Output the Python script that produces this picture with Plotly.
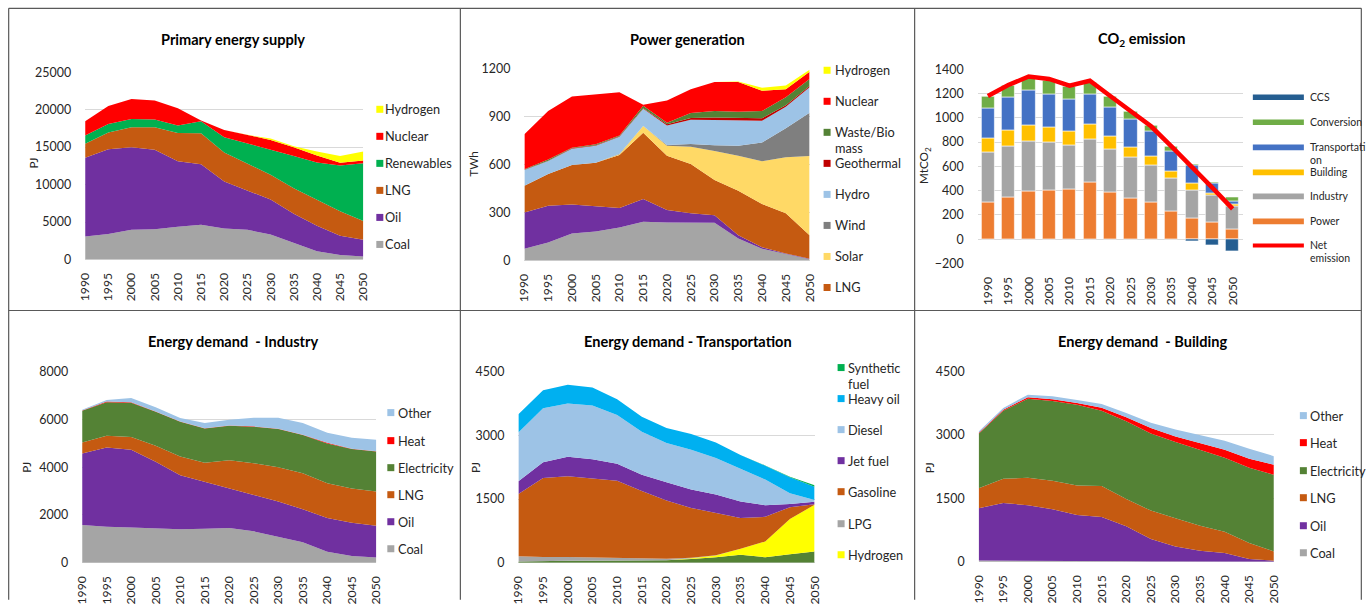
import plotly.graph_objects as go

W, H = 1369, 607
# Measured screen mapping of this page: screen = (figure_px + 8) * S
SX, SY = 1369 / 1385, 607 / 623
FS = 1 / ((SX + SY) / 2)
FONT = "Lato"
TXT = "#262626"

years = [1990, 1995, 2000, 2005, 2010, 2015, 2020, 2025, 2030, 2035, 2040, 2045, 2050]
year_labels = [str(y) for y in years]

# ---------- Primary energy supply (PJ) ----------
pes_coal = [3070, 3400, 3960, 4050, 4360, 4630, 4140, 3960, 3340, 2180, 1110, 580, 400]
pes_oil = [10500, 11320, 11030, 10590, 8760, 8090, 6270, 5290, 4660, 3910, 3380, 2580, 2220]
pes_lng = [1870, 2230, 2670, 3020, 3780, 4140, 3870, 3520, 3300, 3430, 3470, 3290, 2500]
pes_renew = [1110, 1150, 1110, 1020, 980, 1600, 2050, 2750, 3420, 4310, 4980, 6090, 7740]
pes_nuclear = [1910, 2400, 2670, 2540, 2320, 90, 970, 1120, 1250, 1160, 940, 360, 350]
pes_hydrogen = [0, 0, 0, 0, 0, 0, 0, 0, 180, 130, 530, 930, 1200]

# ---------- Power generation (TWh) ----------
pg_coal = [73, 112, 169, 181, 206, 242, 237, 237, 235, 137, 73, 40, 8]
pg_oil = [227, 230, 181, 159, 121, 141, 78, 57, 48, 21, 10, 4, 2]
pg_lng = [167, 198, 246, 270, 331, 415, 339, 308, 219, 277, 269, 250, 148]
pg_solar = [0, 0, 0, 0, 5, 42, 63, 108, 181, 219, 267, 350, 494]
pg_wind = [0, 0, 0, 0, 3, 0, 4, 17, 36, 63, 118, 181, 271]
pg_hydro = [98, 81, 102, 107, 106, 108, 121, 152, 158, 156, 136, 135, 158]
pg_geo = [2, 2, 2, 3, 3, 3, 8, 11, 15, 15, 15, 9, 9]
pg_waste = [2, 8, 4, 6, 5, 15, 10, 31, 41, 41, 45, 50, 43]
pg_nuclear = [219, 302, 319, 310, 270, 6, 138, 148, 182, 186, 127, 50, 46]
pg_hydrogen = [0, 0, 0, 0, 0, 0, 0, 0, 0, 2, 19, 23, 11]

# ---------- CO2 emission (MtCO2) ----------
co2_power = [308, 347, 393, 399, 415, 473, 388, 341, 308, 226, 176, 143, 83]
co2_industry = [407, 418, 416, 396, 361, 352, 355, 338, 303, 280, 228, 215, 189]
co2_building = [119, 132, 129, 124, 115, 118, 104, 80, 71, 55, 53, 24, 14]
co2_transport = [247, 275, 286, 277, 258, 253, 242, 226, 206, 165, 151, 80, 25]
co2_conversion = [99, 96, 104, 113, 111, 99, 88, 68, 50, 41, 8, 8, 38]
co2_ccs = [0, 0, 0, 0, 0, 0, 0, 0, 0, 0, -17, -47, -99]
co2_net = [1180, 1270, 1340, 1320, 1265, 1305, 1180, 1055, 930, 765, 600, 425, 250]

# ---------- Energy demand - Industry (PJ) ----------
ind_coal = [1580, 1510, 1480, 1455, 1400, 1425, 1455, 1315, 1077, 853, 462, 280, 224]
ind_oil = [2993, 3315, 3247, 2769, 2264, 1974, 1664, 1524, 1482, 1385, 1412, 1398, 1328]
ind_lng = [462, 490, 532, 671, 784, 783, 1175, 1329, 1441, 1510, 1455, 1427, 1427]
ind_elec = [1329, 1398, 1440, 1427, 1454, 1440, 1440, 1524, 1594, 1595, 1664, 1650, 1678]
ind_heat = [5, 30, 20, 10, 5, 5, 10, 15, 15, 15, 25, 15, 10]
ind_other = [37, 68, 176, 171, 149, 219, 242, 363, 461, 488, 422, 461, 480]

# ---------- Energy demand - Transportation (PJ) ----------
tr_elec = [30, 45, 45, 45, 45, 45, 60, 90, 130, 190, 130, 200, 265]
tr_hydrogen = [0, 0, 0, 0, 0, 0, 0, 15, 40, 140, 370, 830, 1100]
tr_lpg = [125, 90, 90, 80, 70, 50, 35, 10, 5, 0, 0, 0, 0]
tr_gasoline = [1465, 1861, 1900, 1855, 1818, 1595, 1368, 1176, 999, 726, 580, 277, 10]
tr_jet = [297, 367, 462, 454, 399, 384, 431, 431, 430, 384, 274, 78, 62]
tr_diesel = [1151, 1276, 1252, 1268, 1143, 1010, 924, 939, 861, 767, 603, 251, 39]
tr_heavy = [430, 423, 438, 422, 375, 352, 352, 368, 368, 329, 328, 375, 313]
tr_synth = [0, 0, 0, 0, 0, 0, 0, 0, 0, 0, 5, 15, 35]

# ---------- Energy demand - Building (PJ) ----------
bld_coal = [30, 30, 25, 20, 15, 25, 15, 5, 0, 0, 0, 0, 0]
bld_oil = [1235, 1362, 1312, 1222, 1092, 1035, 823, 533, 364, 261, 206, 63, 24]
bld_lng = [475, 570, 648, 672, 696, 735, 649, 672, 664, 593, 506, 380, 221]
bld_elec = [1289, 1613, 1874, 1890, 1914, 1780, 1835, 1827, 1803, 1795, 1748, 1779, 1811]
bld_heat = [16, 23, 32, 39, 40, 71, 95, 126, 135, 159, 190, 214, 238]
bld_other = [39, 40, 63, 71, 71, 87, 102, 127, 166, 181, 213, 237, 205]

C = {
    "coal": "#A5A5A5", "oil": "#7030A0", "lng": "#C55A11", "renew": "#00B050",
    "nuclear": "#FF0000", "hydrogen": "#FFFF00", "solar": "#FFD966", "wind": "#7F7F7F",
    "hydro": "#9DC3E6", "geo": "#C00000", "waste": "#548235", "elec": "#548235",
    "heat": "#FF0000", "other": "#9DC3E6", "heavy": "#00B0F0", "diesel": "#9DC3E6",
    "jet": "#7030A0", "gasoline": "#C55A11", "lpg": "#A5A5A5", "synth": "#00B050",
    "p_power": "#ED7D31", "p_ind": "#A5A5A5", "p_bld": "#FFC000", "p_tr": "#4472C4",
    "p_conv": "#70AD47", "p_ccs": "#255E91", "p_net": "#FF0000",
}

fig = go.Figure()

def fxp(x):
    return x / SX - 8

def fyp(y):
    return y / SY - 8

def px(x):
    return min(max(fxp(x) / W, 0.0005), 0.9995)

def py(y):
    return min(max(1 - fyp(y) / H, 0.0005), 0.9995)

def fs(s):
    return round(s * FS, 2)

# panel geometry in screen pixels
panels = {
    1: dict(x=(85, 363), y=(72, 259), yr=(0, 25000), dt=5000, xr=(1990, 2050)),
    2: dict(x=(524, 809), y=(68, 260), yr=(0, 1200), dt=300, xr=(1990, 2050)),
    3: dict(x=(977, 1242), y=(69, 263), yr=(-200, 1400), dt=200, xr=(1987.5, 2052.5)),
    4: dict(x=(82, 376), y=(371, 562), yr=(0, 8000), dt=2000, xr=(1990, 2050)),
    5: dict(x=(518, 814), y=(371, 562), yr=(0, 4500), dt=1500, xr=(1990, 2050)),
    6: dict(x=(978, 1273), y=(371, 561), yr=(0, 4500), dt=1500, xr=(1990, 2050)),
}

layout_axes = {}
for i, p in panels.items():
    sx = "" if i == 1 else str(i)
    layout_axes["xaxis" + sx] = dict(
        domain=[px(p["x"][0]), px(p["x"][1])], anchor="y" + sx, range=list(p["xr"]),
        tickmode="array", tickvals=years, ticktext=year_labels, tickangle=-90,
        showgrid=False, zeroline=False, showline=False, ticks="",
        tickfont=dict(family=FONT, size=fs(12), color=TXT), ticklabelstandoff=10, fixedrange=True,
    )
    layout_axes["yaxis" + sx] = dict(
        domain=[py(p["y"][1]), py(p["y"][0])], anchor="x" + sx, range=list(p["yr"]),
        tick0=0, dtick=p["dt"], tickformat="d", showgrid=True, gridcolor="#D9D9D9", gridwidth=1.3,
        zeroline=True, zerolinecolor="#D9D9D9", zerolinewidth=1.3, showline=False, ticks="",
        tickfont=dict(family=FONT, size=fs(12.2), color=TXT), ticklabelstandoff=13, fixedrange=True,
    )

def area(panel, vals, color, name):
    sx = "" if panel == 1 else str(panel)
    fig.add_trace(go.Scatter(
        x=years, y=vals, name=name, mode="lines", stackgroup="s%d" % panel,
        line=dict(width=0, color=color), fillcolor=color, showlegend=False,
        xaxis="x" + sx, yaxis="y" + sx,
    ))

# Panel 1
for v, c, n in [(pes_coal, "coal", "Coal"), (pes_oil, "oil", "Oil"), (pes_lng, "lng", "LNG"),
                (pes_renew, "renew", "Renewables"), (pes_nuclear, "nuclear", "Nuclear"),
                (pes_hydrogen, "hydrogen", "Hydrogen")]:
    area(1, v, C[c], n)

# Panel 2
for v, c, n in [(pg_coal, "coal", "Coal"), (pg_oil, "oil", "Oil"), (pg_lng, "lng", "LNG"),
                (pg_solar, "solar", "Solar"), (pg_wind, "wind", "Wind"), (pg_hydro, "hydro", "Hydro"),
                (pg_geo, "geo", "Geothermal"), (pg_waste, "waste", "Waste/Bio mass"),
                (pg_nuclear, "nuclear", "Nuclear"), (pg_hydrogen, "hydrogen", "Hydrogen")]:
    area(2, v, C[c], n)

# Panel 3 (bars)
for v, c, n in [(co2_power, "p_power", "Power"), (co2_industry, "p_ind", "Industry"),
                (co2_building, "p_bld", "Building"), (co2_transport, "p_tr", "Transportation"),
                (co2_conversion, "p_conv", "Conversion"), (co2_ccs, "p_ccs", "CCS")]:
    fig.add_trace(go.Bar(x=years, y=v, name=n, width=3.2, marker=dict(color=C[c], line=dict(width=0.6, color="white")),
                         showlegend=False, xaxis="x3", yaxis="y3"))
fig.add_trace(go.Scatter(x=years, y=co2_net, name="Net emission", mode="lines",
                         line=dict(color=C["p_net"], width=4.5), showlegend=False, xaxis="x3", yaxis="y3"))

# Panel 4
for v, c, n in [(ind_coal, "coal", "Coal"), (ind_oil, "oil", "Oil"), (ind_lng, "lng", "LNG"),
                (ind_elec, "elec", "Electricity"), (ind_heat, "heat", "Heat"), (ind_other, "other", "Other")]:
    area(4, v, C[c], n)

# Panel 5
for v, c, n in [(tr_elec, "elec", "Electricity"), (tr_hydrogen, "hydrogen", "Hydrogen"), (tr_lpg, "lpg", "LPG"),
                (tr_gasoline, "gasoline", "Gasoline"), (tr_jet, "jet", "Jet fuel"), (tr_diesel, "diesel", "Diesel"),
                (tr_heavy, "heavy", "Heavy oil"), (tr_synth, "synth", "Synthetic fuel")]:
    area(5, v, C[c], n)

# Panel 6
for v, c, n in [(bld_coal, "coal", "Coal"), (bld_oil, "oil", "Oil"), (bld_lng, "lng", "LNG"),
                (bld_elec, "elec", "Electricity"), (bld_heat, "heat", "Heat"), (bld_other, "other", "Other")]:
    area(6, v, C[c], n)

shapes = []
annotations = []

# Frame lines
LC = "#595959"
for (x0, y0, x1, y1) in [(7, 8, 1366, 8), (7, 310, 1366, 310), (7, 8, 7, 620), (460, 8, 460, 620),
                         (914, 8, 914, 620), (1366, 8, 1366, 620)]:
    shapes.append(dict(type="line", xref="paper", yref="paper", x0=px(x0), y0=py(y0), x1=px(x1), y1=py(y1),
                       line=dict(color=LC, width=1.2)))

# Titles
for txt, x, y in [("Primary energy supply", 233, 39), ("Power generation", 687, 39),
                  ("CO<sub>2</sub> emission", 1141, 39), ("Energy demand  - Industry", 233, 341),
                  ("Energy demand - Transportation", 687, 341), ("Energy demand  - Building", 1142, 341)]:
    annotations.append(dict(text="<b>%s</b>" % txt, x=px(x), y=py(y), xref="paper", yref="paper",
                            xanchor="center", yanchor="middle", showarrow=False,
                            font=dict(family=FONT, size=fs(14.3), color="#000")))

# Y titles
for txt, x, y in [("PJ", 33, 163), ("TWh", 473, 163), ("MtCO<sub>2</sub>", 924, 165),
                  ("PJ", 26, 467), ("PJ", 474, 467), ("PJ", 928, 467)]:
    annotations.append(dict(text=txt, x=px(x), y=py(y), xref="paper", yref="paper", textangle=-90,
                            xanchor="center", yanchor="middle", showarrow=False,
                            font=dict(family=FONT, size=fs(11.5), color=TXT)))

def legend(items, sq_x, txt_x, size=12.5, sq=7, kind="square", lh=16):
    for label, color, y in items:
        lines = label.split("\n")
        if kind == "square":
            shapes.append(dict(type="rect", xref="paper", yref="paper", x0=px(sq_x), x1=px(sq_x + sq),
                               y0=py(y - sq / 2), y1=py(y + sq / 2), fillcolor=color, line=dict(width=0)))
        elif kind == "bar":
            shapes.append(dict(type="rect", xref="paper", yref="paper", x0=px(sq_x), x1=px(sq_x + 51),
                               y0=py(y - 2.8), y1=py(y + 2.8), fillcolor=color, line=dict(width=0)))
        elif kind == "line":
            shapes.append(dict(type="line", xref="paper", yref="paper", x0=px(sq_x), x1=px(sq_x + 51),
                               y0=py(y), y1=py(y), line=dict(color=color, width=4)))
        for k, ln in enumerate(lines):
            annotations.append(dict(text=ln, x=px(txt_x), y=py(y + k * lh), xref="paper", yref="paper",
                                    xanchor="left", yanchor="middle", showarrow=False, align="left",
                                    font=dict(family=FONT, size=fs(size), color=TXT)))

legend([("Hydrogen", C["hydrogen"], 109), ("Nuclear", C["nuclear"], 136), ("Renewables", C["renew"], 163),
        ("LNG", C["lng"], 190), ("Oil", C["oil"], 217), ("Coal", C["coal"], 244)], 376, 383)
legend([("Hydrogen", C["hydrogen"], 70), ("Nuclear", C["nuclear"], 101), ("Waste/Bio\nmass", C["waste"], 132),
        ("Geothermal", C["geo"], 163), ("Hydro", C["hydro"], 194), ("Wind", C["wind"], 225),
        ("Solar", C["solar"], 256), ("LNG", C["lng"], 287)], 823, 832)
legend([("CCS", C["p_ccs"], 97), ("Conversion", C["p_conv"], 122), ("Transportati\non", C["p_tr"], 147),
        ("Building", C["p_bld"], 172), ("Industry", C["p_ind"], 196), ("Power", C["p_power"], 221)],
       1252, 1307, size=10.3, kind="bar", lh=12.5)
legend([("Net\nemission", C["p_net"], 245)], 1252, 1307, size=10.3, kind="line", lh=13)
legend([("Other", C["other"], 412), ("Heat", C["heat"], 440), ("Electricity", C["elec"], 467),
        ("LNG", C["lng"], 494), ("Oil", C["oil"], 521), ("Coal", C["coal"], 548)], 387, 396)
legend([("Synthetic\nfuel", C["synth"], 367), ("Heavy oil", C["heavy"], 398), ("Diesel", C["diesel"], 429),
        ("Jet fuel", C["jet"], 460), ("Gasoline", C["gasoline"], 491), ("LPG", C["lpg"], 523),
        ("Hydrogen", C["hydrogen"], 554)], 837, 845)
legend([("Other", C["other"], 415), ("Heat", C["heat"], 442), ("Electricity", C["elec"], 470),
        ("LNG", C["lng"], 497), ("Oil", C["oil"], 525), ("Coal", C["coal"], 552)], 1299, 1307)

fig.update_layout(
    width=W, height=H, margin=dict(l=0, r=0, t=0, b=0), autosize=False,
    paper_bgcolor="white", plot_bgcolor="white", barmode="relative", bargap=0,
    showlegend=False, shapes=shapes, annotations=annotations,
    font=dict(family=FONT, color=TXT), **layout_axes,
)

fig.write_html("out.html", config={"displayModeBar": False})
